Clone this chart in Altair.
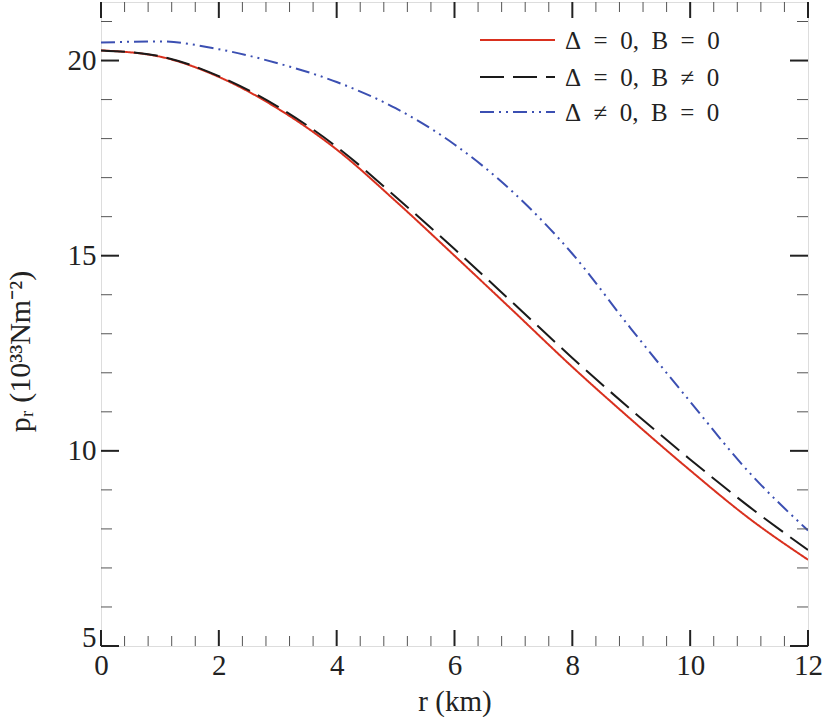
import altair as alt
import pandas as pd

# ---- data ----
r_km = [0, 1, 2, 3, 4, 5, 6, 7, 8, 9, 10, 11, 12]
p_d0_b0 = [20.26, 20.10, 19.58, 18.77, 17.72, 16.40, 15.00, 13.58, 12.15, 10.80, 9.50, 8.27, 7.21]
p_d0_bn = [20.26, 20.11, 19.60, 18.82, 17.79, 16.51, 15.17, 13.78, 12.38, 11.05, 9.78, 8.57, 7.46]
p_dn_b0 = [20.46, 20.49, 20.29, 19.93, 19.45, 18.78, 17.85, 16.62, 15.05, 13.12, 11.26, 9.45, 7.96]

series = ["Δ\u2002=\u20020,\u2002B\u2002=\u20020",
          "Δ\u2002=\u20020,\u2002B\u2002≠\u20020",
          "Δ\u2002≠\u20020,\u2002B\u2002=\u20020"]
colors = ["#d9301e", "#1a1a1a", "#3b4fb2"]
dashes = [[1, 0], [24, 9], [14, 5, 2, 5, 2, 5]]

x_major = [0, 2, 4, 6, 8, 10, 12]
x_minor = [round(m + k * 0.4, 1) for m in range(0, 12, 2) for k in range(1, 5)]
y_major = [5, 10, 15, 20]
y_minor = [6, 7, 8, 9, 11, 12, 13, 14, 16, 17, 18, 19, 21]

W, H = 707, 644
FONT = "Liberation Serif"

rows = []
for name, vals in zip(series, [p_d0_b0, p_d0_bn, p_dn_b0]):
    for r, p in zip(r_km, vals):
        rows.append({"r": r, "p": p, "series": name})
df = pd.DataFrame(rows)

xs = alt.Scale(domain=[0, 12], nice=False, zero=False)
ys = alt.Scale(domain=[5, 21.5], nice=False, zero=False)

x_axis = alt.Axis(values=x_major, ticks=False, domain=False, grid=False,
                  labelFont=FONT, labelFontSize=29, labelColor="#222",
                  labelPadding=5, title="r (km)", titleFont=FONT,
                  titleFontSize=29, titleFontWeight="normal",
                  titleColor="#222", titlePadding=7, labelFlush=False)
y_axis = alt.Axis(values=y_major, ticks=False, domain=False, grid=False,
                  labelFont=FONT, labelFontSize=29, labelColor="#222",
                  labelPadding=5,
                  labelBaseline={"condition": {"test": "datum.value <= 5", "value": "alphabetic"},
                                 "value": "middle"},
                  title="pᵣ  (10³³Nm⁻²)", titleFont=FONT,
                  titleFontSize=30, titleFontWeight="normal",
                  titleColor="#222", titleX=-66, titleY=349, labelFlush=False)

lines = alt.Chart(df).mark_line(strokeWidth=2, interpolate="monotone", clip=True).encode(
    x=alt.X("r:Q", scale=xs, axis=x_axis),
    y=alt.Y("p:Q", scale=ys, axis=y_axis),
    color=alt.Color("series:N", scale=alt.Scale(domain=series, range=colors), legend=None),
    strokeDash=alt.StrokeDash("series:N", scale=alt.Scale(domain=series, range=dashes), legend=None),
    detail="series:N",
)

def tick_layer(vals, axis_ch, side, length, width, col):
    d = pd.DataFrame({"v": vals})
    m = alt.Chart(d).mark_rule(color=col, strokeWidth=width)
    if axis_ch == "x":
        enc = {"x": alt.X("v:Q", scale=xs, axis=x_axis)}
        if side == "bottom":
            enc.update(y=alt.value(H), y2=alt.value(H - length))
        else:
            enc.update(y=alt.value(0), y2=alt.value(length))
    else:
        enc = {"y": alt.Y("v:Q", scale=ys, axis=y_axis)}
        if side == "left":
            enc.update(x=alt.value(0), x2=alt.value(length))
        else:
            enc.update(x=alt.value(W), x2=alt.value(W - length))
    return m.encode(**enc)

ticks = [
    tick_layer(x_major, "x", "bottom", 16, 2, "#222"),
    tick_layer(x_minor, "x", "bottom", 10, 1, "#555"),
    tick_layer(x_major, "x", "top", 16, 2, "#222"),
    tick_layer(x_minor, "x", "top", 10, 1, "#555"),
    tick_layer(y_major, "y", "left", 18, 2, "#222"),
    tick_layer(y_minor, "y", "left", 11, 1, "#555"),
    tick_layer(y_major, "y", "right", 18, 2, "#222"),
    tick_layer(y_minor, "y", "right", 11, 1, "#555"),
]

legend_layers = []
leg_y = [38, 75, 110]
for name, col, dsh, yy in zip(series, colors, dashes, leg_y):
    one = pd.DataFrame({"label": [name]})
    legend_layers.append(
        alt.Chart(one).mark_rule(color=col, strokeWidth=2, strokeDash=dsh).encode(
            x=alt.value(379), x2=alt.value(454), y=alt.value(yy))
    )
    legend_layers.append(
        alt.Chart(one).mark_text(align="left", baseline="middle", font=FONT, fontSize=25,
                                 color="#222").encode(
            x=alt.value(464), y=alt.value(yy + 1), text="label:N")
    )

chart = alt.layer(lines, *ticks, *legend_layers).properties(
    width=W, height=H,
    autosize=alt.AutoSizeParams(type="none"),
    padding={"left": 101, "top": 2, "right": 22, "bottom": 71},
).configure_view(stroke="#222", strokeWidth=2).configure(background="white")

chart.save("out.html", embed_options={"renderer": "svg", "actions": False})
